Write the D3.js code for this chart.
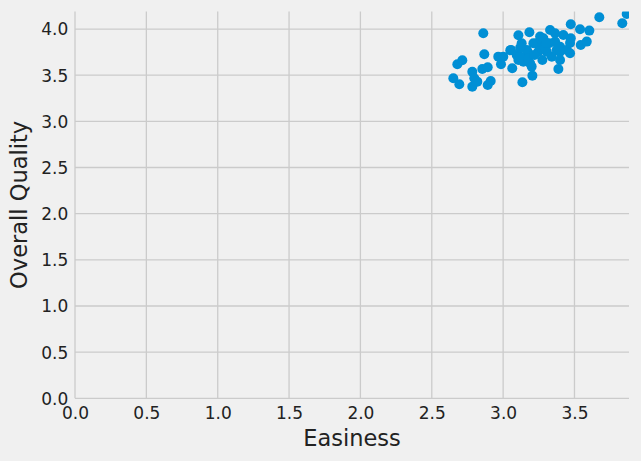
<!DOCTYPE html>
<html><head><meta charset="utf-8">
<script src="https://cdn.jsdelivr.net/npm/d3@7"></script>
<style>html,body{margin:0;padding:0;background:#f0f0f0;}svg{display:block;}</style>
</head><body>
<script>
const easiness = [2.861,2.679,2.714,2.651,2.693,2.784,2.798,2.784,2.819,2.854,2.892,2.868,2.892,2.913,2.966,3.001,2.985,3.064,3.135,3.205,3.107,3.184,3.055,3.095,3.130,3.142,3.189,3.170,3.235,3.259,3.275,3.329,3.322,3.341,3.364,3.387,3.399,3.422,3.446,3.469,3.474,3.474,3.539,3.604,3.544,3.586,3.674,3.835,3.866,3.153,3.107,3.469,3.259,3.212,3.177,3.306,3.376,3.399,3.165,3.118,3.177,3.200,3.247,3.270,3.282,3.294,3.364,3.399,3.12,3.22,3.30,3.05];
const quality = [3.955,3.619,3.662,3.467,3.402,3.538,3.467,3.376,3.430,3.568,3.586,3.727,3.394,3.438,3.701,3.701,3.619,3.575,3.424,3.495,3.933,3.965,3.774,3.719,3.846,3.647,3.630,3.755,3.846,3.918,3.665,3.990,3.846,3.701,3.955,3.568,3.809,3.936,3.774,3.738,3.900,4.052,3.998,3.983,3.828,3.864,4.128,4.063,4.164,3.701,3.665,3.850,3.809,3.846,3.738,3.755,3.774,3.665,3.774,3.701,3.684,3.593,3.755,3.882,3.900,3.792,3.864,3.755,3.80,3.72,3.85,3.77];
const xTicks = [0,0.5,1,1.5,2,2.5,3,3.5];
const yTicks = [0,0.5,1,1.5,2,2.5,3,3.5,4];
const xLabel = "Easiness", yLabel = "Overall Quality";

const W = 641, H = 461;
const L = 75, R = 629, T = 11.5, B = 398.3;
const x = d3.scaleLinear().domain([0, 3.882]).range([L, R]);
const y = d3.scaleLinear().domain([0, 4.19]).range([B, T]);

const svg = d3.select("body").append("svg").attr("width", W).attr("height", H)
  .style("font-family", "'DejaVu Sans', sans-serif");
svg.append("rect").attr("width", W).attr("height", H).attr("fill", "#f0f0f0");

svg.append("defs").append("clipPath").attr("id", "clip")
  .append("rect").attr("x", L).attr("y", T).attr("width", R - L).attr("height", B - T);

const grid = svg.append("g").attr("stroke", "#cbcbcb").attr("stroke-width", 1.3);
grid.selectAll(".gx").data(xTicks).join("line")
  .attr("x1", d => x(d)).attr("x2", d => x(d)).attr("y1", T).attr("y2", B);
grid.selectAll(".gy").data(yTicks).join("line")
  .attr("y1", d => y(d)).attr("y2", d => y(d)).attr("x1", L).attr("x2", R);

const fmt = d3.format(".1f");
const xAxis = svg.append("g").attr("transform", `translate(0,${B})`)
  .call(d3.axisBottom(x).tickValues(xTicks).tickFormat(fmt).tickSize(0).tickPadding(8));
const yAxis = svg.append("g").attr("transform", `translate(${L},0)`)
  .call(d3.axisLeft(y).tickValues(yTicks).tickFormat(fmt).tickSize(0).tickPadding(6.7));
[xAxis, yAxis].forEach(a => {
  a.select(".domain").remove();
  a.selectAll("text").attr("fill", "#222").style("font-size", "17px").style("font-family", "'DejaVu Sans', sans-serif");
});
xAxis.selectAll("text").attr("dy", null).attr("y", 20.7);
yAxis.selectAll("text").attr("dy", "0.35em");

svg.append("g").attr("clip-path", "url(#clip)")
  .selectAll("circle").data(easiness.map((e, i) => [e, quality[i]])).join("circle")
  .attr("cx", d => x(d[0])).attr("cy", d => y(d[1])).attr("r", 5).attr("fill", "#008fd5");

svg.append("text").attr("x", (L + R) / 2).attr("y", 445.5).attr("text-anchor", "middle")
  .attr("fill", "#222").style("font-size", "22.5px").text(xLabel);
svg.append("text").attr("transform", `translate(26.5,${(T + B) / 2}) rotate(-90)`).attr("text-anchor", "middle")
  .attr("fill", "#222").style("font-size", "22.5px").text(yLabel);
</script>
</body></html>
